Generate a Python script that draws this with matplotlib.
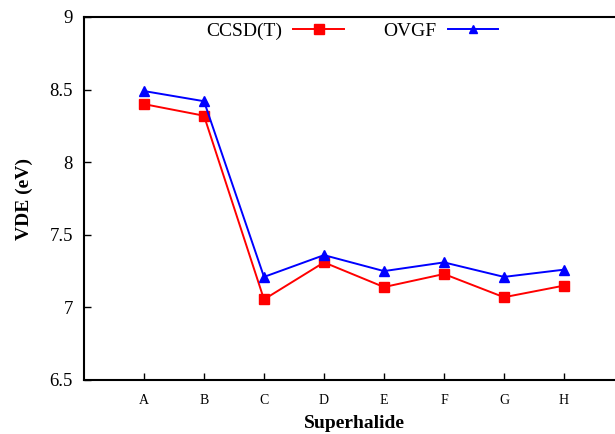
import matplotlib
matplotlib.use('Agg')
import matplotlib.pyplot as plt

# data
labels = ["A", "B", "C", "D", "E", "F", "G", "H"]
ccsd = [8.40, 8.32, 7.055, 7.31, 7.14, 7.23, 7.07, 7.15]
ovgf = [8.49, 8.42, 7.21, 7.36, 7.25, 7.31, 7.21, 7.26]
yticks = [6.5, 7, 7.5, 8, 8.5, 9]
ytick_labels = ["6.5", "7", "7.5", "8", "8.5", "9"]

plt.rcParams['font.family'] = ['Liberation Serif', 'DejaVu Serif']

fig = plt.figure(figsize=(6.15, 4.34), dpi=100)
ax = fig.add_axes([84 / 615, 54 / 434, 540 / 615, 363 / 434])

x = list(range(1, len(labels) + 1))
ax.plot(x, ccsd, color='#ff0000', linewidth=1.4, marker='s', markersize=7.5,
        label='CCSD(T)')
ax.plot(x, ovgf, color='#0000ff', linewidth=1.4, marker='^', markersize=7,
        label='OVGF')

ax.set_xlim(0, 9)
ax.set_ylim(6.5, 9)
ax.set_xticks(x)
ax.set_xticklabels(labels, fontsize=10)
ax.set_yticks(yticks)
ax.set_yticklabels(ytick_labels, fontsize=13.5)
ax.tick_params(direction='in', length=5, width=1)
ax.tick_params(axis='y', pad=8)
ax.tick_params(axis='x', pad=10)

for spine in ax.spines.values():
    spine.set_linewidth(1.5)

ax.set_xlabel('Superhalide', fontsize=14, fontweight='bold', labelpad=6)
ax.set_ylabel('VDE (eV)', fontsize=14, fontweight='bold', labelpad=12)

fig.legend(loc='center', bbox_to_anchor=(352 / 615, (434 - 31) / 434),
           ncol=2, frameon=False, markerfirst=False, fontsize=14,
           handlelength=2.6, columnspacing=2.0, markerscale=0.9,
           handletextpad=0.6)

fig.savefig('out.png', dpi=100)
